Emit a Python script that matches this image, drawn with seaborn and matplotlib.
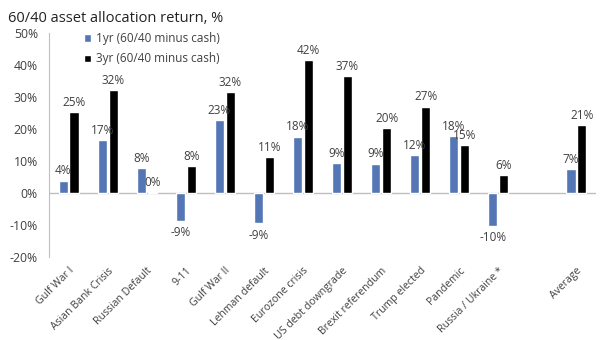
import matplotlib
matplotlib.use("Agg")
import matplotlib.pyplot as plt
import seaborn as sns
import pandas as pd
import numpy as np

categories = ["Gulf War I", "Asian Bank Crisis", "Russian Default", "9-11", "Gulf War II",
              "Lehman default", "Eurozone crisis", "US debt downgrade", "Brexit referendum",
              "Trump elected", "Pandemic", "Russia / Ukraine *", "Average"]
one_yr = [3.9, 16.6, 7.7, -8.6, 22.8, -9.4, 17.6, 9.3, 9.2, 11.8, 17.9, -10.2, 7.4]
three_yr = [25.4, 32.2, 0.3, 8.4, 31.6, 11.2, 41.6, 36.6, 20.2, 27.0, 14.9, 5.7, 21.2]
series = ["1yr (60/40 minus cash)", "3yr (60/40 minus cash)"]
order = categories[:12] + [" "] + categories[12:]

df = pd.DataFrame({
    "event": categories * 2,
    "series": [series[0]] * len(categories) + [series[1]] * len(categories),
    "value": one_yr + three_yr,
})

sns.set_style("white")
plt.rcParams["font.family"] = ["Open Sans", "DejaVu Sans"]
txt = "#404040"

fig = plt.figure(figsize=(6.02, 3.40), dpi=100)
ax = fig.add_axes([0.0814, 0.244, 0.9086, 0.659])
sns.barplot(data=df, x="event", y="value", hue="series", order=order, hue_order=series,
            palette=["#4472C4", "#000000"], width=0.56, gap=0.17, ax=ax,
            errorbar=None, legend=True)

for cont in ax.containers:
    for bar in cont:
        h = bar.get_height()
        if np.isnan(h):
            continue
        x = bar.get_x() + bar.get_width() / 2
        lab = f"{round(h):.0f}%"
        if h >= 0:
            ax.text(x, h + 1.0, lab, ha="center", va="bottom", fontsize=8.5, color=txt)
        else:
            ax.text(x, h - 1.8, lab, ha="center", va="top", fontsize=8.5, color=txt)

ax.set_ylim(-20, 50)
ax.set_xlim(-0.5, 13.5)
ax.set_yticks(range(-20, 51, 10))
ax.set_yticklabels([f"{v}%" for v in range(-20, 51, 10)], fontsize=8.8, color=txt)
ax.set_xticks(range(len(order)))
ax.set_xticklabels(order, rotation=45, ha="right", rotation_mode="anchor", fontsize=7.6, color=txt)
ax.tick_params(axis="both", length=0)
ax.tick_params(axis="y", pad=8)
ax.tick_params(axis="x", pad=6)
ax.set_xlabel("")
ax.set_ylabel("")
for s in ["top", "right", "bottom"]:
    ax.spines[s].set_visible(False)
ax.spines["left"].set_color("#bfbfbf")
ax.axhline(0, color="#bfbfbf", lw=1, zorder=0)

leg = ax.legend(loc="upper left", bbox_to_anchor=(0.045, 1.05), frameon=False, fontsize=8.5,
                handlelength=0.6, handleheight=0.6, handletextpad=0.4, labelspacing=0.6)
for t in leg.get_texts():
    t.set_color(txt)

fig.text(0.013, 0.945, "60/40 asset allocation return, %", fontsize=10.5, color="#222222", va="center")

fig.savefig("out.png", dpi=100)
